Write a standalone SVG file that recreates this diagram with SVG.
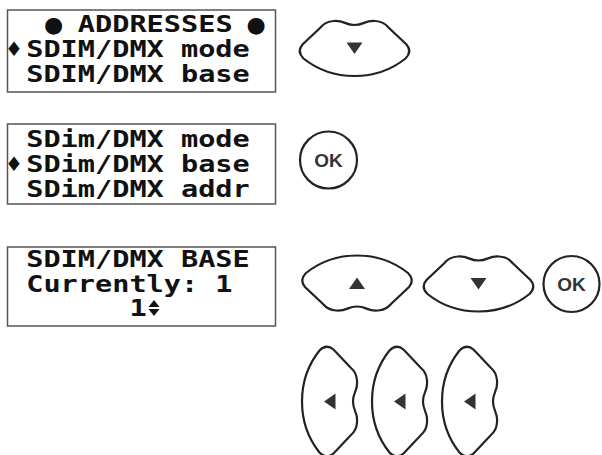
<svg xmlns="http://www.w3.org/2000/svg" width="602" height="455" viewBox="0 0 602 455">
<style>
.lcd{fill:#fff;stroke:#555;stroke-width:1.5}
.t{font-family:"DejaVu Sans Mono",monospace;font-weight:bold;font-size:22.5px;fill:#111}
.sym{font-family:"DejaVu Sans","DejaVu Sans Mono",sans-serif;font-size:20px;fill:#111}
.dot{font-family:"DejaVu Sans",sans-serif;font-size:22px;fill:#111;text-anchor:middle}
.btn{fill:#fff;stroke:#222;stroke-width:2.2}
.tri{fill:#333}
.ok{font-family:"Liberation Sans",Arial,sans-serif;font-weight:bold;font-size:19px;fill:#333;text-anchor:middle}
</style>
<defs>
<g id="dbtn">
<path class="btn" d="M -21 -27.5 C -10 -28.5 -10 -23.5 0 -23.5 C 10 -23.5 10 -28.5 21 -27.5 Q 29 -27 34 -21 L 52 -4 Q 58 3 51 10 C 36 22 18 27.5 0 27.5 C -18 27.5 -36 22 -51 10 Q -58 3 -52 -4 L -34 -21 Q -29 -27 -21 -27.5 Z"/>
<polygon class="tri" points="-8,-6 8,-6 0,5.5"/>
</g>
</defs>
<g id="lcd1">
<rect class="lcd" x="7.5" y="10" width="268" height="82"/>
<text class="dot" x="53.5" y="31.5">●</text>
<text class="t" x="77.8" y="32" textLength="154.8" lengthAdjust="spacingAndGlyphs">ADDRESSES</text>
<text class="dot" x="256" y="31.5">●</text>
<text class="sym" x="5" y="56">♦</text>
<text class="t" x="26.2" y="57" textLength="223.6" lengthAdjust="spacingAndGlyphs">SDIM/DMX mode</text>
<text class="t" x="26.2" y="82" textLength="223.6" lengthAdjust="spacingAndGlyphs">SDIM/DMX base</text>
</g>
<g id="lcd2">
<rect class="lcd" x="7.5" y="124" width="268" height="80"/>
<text class="t" x="26.2" y="147" textLength="223.6" lengthAdjust="spacingAndGlyphs">SDim/DMX mode</text>
<text class="sym" x="5" y="171">♦</text>
<text class="t" x="26.2" y="172" textLength="223.6" lengthAdjust="spacingAndGlyphs">SDim/DMX base</text>
<text class="t" x="26.2" y="197" textLength="223.6" lengthAdjust="spacingAndGlyphs">SDim/DMX addr</text>
</g>
<g id="lcd3">
<rect class="lcd" x="7.5" y="247" width="268" height="79"/>
<text class="t" x="26.2" y="267" textLength="223.6" lengthAdjust="spacingAndGlyphs">SDIM/DMX BASE</text>
<text class="t" x="26.2" y="292" textLength="206.4" lengthAdjust="spacingAndGlyphs">Currently: 1</text>
<text class="t" x="129.4" y="316" textLength="17.2" lengthAdjust="spacingAndGlyphs">1</text>
<polygon points="148.5,307 159.5,307 154,300" fill="#111"/>
<polygon points="148.5,309 159.5,309 154,316" fill="#111"/>
</g>
<g id="btn-down1"><use href="#dbtn" transform="translate(354.5,48.5)"/></g>
<g id="btn-ok1">
<circle class="btn" cx="328.5" cy="160" r="28.5"/>
<text class="ok" x="328.5" y="167">OK</text>
</g>
<g id="btn-up2"><use href="#dbtn" transform="translate(357,283) scale(1,-1)"/></g>
<g id="btn-down2"><use href="#dbtn" transform="translate(478.5,284)"/></g>
<g id="btn-ok2">
<circle class="btn" cx="571.5" cy="284" r="28"/>
<text class="ok" x="571.5" y="291">OK</text>
</g>
<g id="btn-left1"><use href="#dbtn" transform="translate(329.5,401.5) rotate(90)"/></g>
<g id="btn-left2"><use href="#dbtn" transform="translate(399.5,401.5) rotate(90)"/></g>
<g id="btn-left3"><use href="#dbtn" transform="translate(469.5,401.5) rotate(90)"/></g>
<g id="connectors"/>
</svg>
